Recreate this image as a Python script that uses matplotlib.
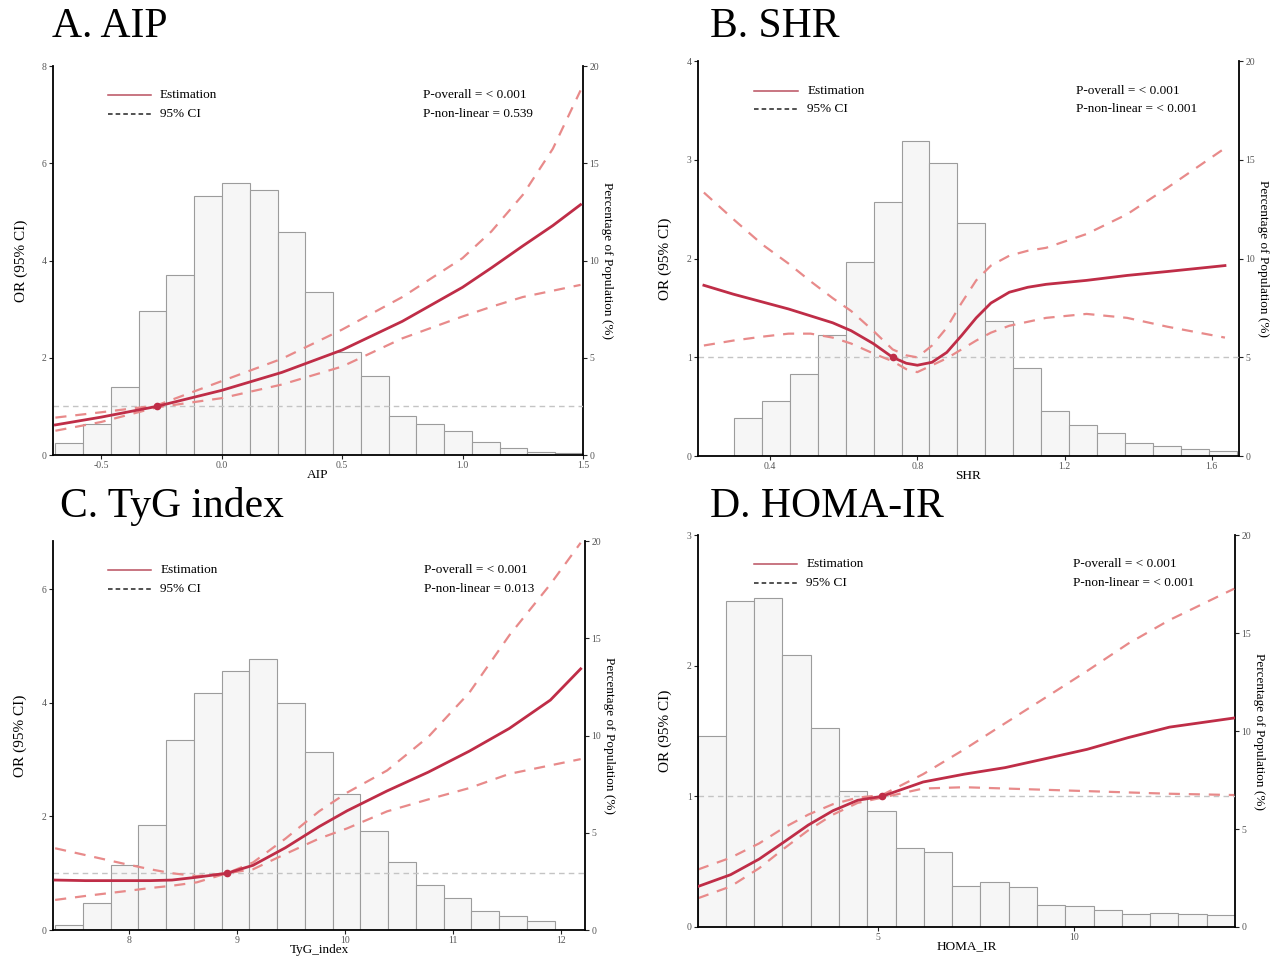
import matplotlib
import numpy as np

matplotlib.use("Agg")
import matplotlib.pyplot as plt  # noqa: E402

plt.rcParams["font.family"] = ["Liberation Serif", "DejaVu Serif"]

# ---- panel A: AIP ----
a_bins = (-0.69, 1.50)
a_pct = [0.6, 1.6, 3.48, 7.4, 9.25, 13.3, 14.0, 13.65, 11.47, 8.4,
         5.3, 4.04, 2.0, 1.58, 1.22, 0.67, 0.34, 0.15, 0.12]
a_x = [-0.69, -0.5, -0.27, 0.0, 0.25, 0.5, 0.75, 1.0, 1.12, 1.25, 1.375, 1.49]
a_est = [0.62, 0.78, 1.0, 1.33, 1.70, 2.16, 2.75, 3.45, 3.85, 4.30, 4.72, 5.15]
a_hi = [0.77, 0.88, 1.02, 1.52, 1.98, 2.58, 3.25, 4.05, 4.60, 5.35, 6.30, 7.50]
a_lo = [0.50, 0.68, 0.98, 1.17, 1.45, 1.82, 2.40, 2.85, 3.05, 3.25, 3.38, 3.50]
a_ref = -0.27

# ---- panel B: SHR ----
b_bins = (0.301, 1.669)
b_pct = [1.94, 2.81, 4.14, 6.14, 9.83, 12.88, 15.96, 14.87, 11.8, 6.83,
         4.46, 2.27, 1.57, 1.18, 0.64, 0.49, 0.37, 0.24]
b_x = [0.22, 0.30, 0.38, 0.45, 0.51, 0.57, 0.62, 0.68, 0.733, 0.77, 0.80, 0.84,
       0.88, 0.92, 0.96, 1.00, 1.05, 1.10, 1.15, 1.26, 1.37, 1.48, 1.636]
b_est = [1.73, 1.64, 1.56, 1.49, 1.42, 1.35, 1.27, 1.14, 1.0, 0.94, 0.92, 0.95,
         1.05, 1.22, 1.40, 1.55, 1.66, 1.71, 1.74, 1.78, 1.83, 1.87, 1.93]
b_hi = [2.67, 2.40, 2.14, 1.95, 1.77, 1.60, 1.47, 1.27, 1.08, 1.02, 1.00, 1.12,
        1.30, 1.55, 1.78, 1.93, 2.03, 2.08, 2.11, 2.25, 2.45, 2.72, 3.12]
b_lo = [1.12, 1.17, 1.21, 1.24, 1.24, 1.20, 1.14, 1.04, 0.96, 0.88, 0.85, 0.92,
        0.99, 1.08, 1.17, 1.25, 1.32, 1.36, 1.40, 1.44, 1.40, 1.31, 1.20]
b_ref = 0.733

# ---- panel C: TyG index ----
c_bins = (7.32, 11.94)
c_pct = [0.26, 1.4, 3.35, 5.41, 9.78, 12.19, 13.31, 13.92, 11.65, 9.15,
         7.02, 5.07, 3.49, 2.31, 1.66, 1.0, 0.7, 0.44]
c_x = [7.32, 7.6, 7.95, 8.2, 8.4, 8.63, 8.91, 9.15, 9.45, 9.76, 10.02,
       10.39, 10.77, 11.15, 11.52, 11.9, 12.18]
c_est = [0.88, 0.87, 0.87, 0.87, 0.88, 0.93, 1.0, 1.14, 1.45, 1.82, 2.1,
         2.45, 2.78, 3.15, 3.55, 4.05, 4.6]
c_hi = [1.44, 1.32, 1.17, 1.07, 1.0, 0.95, 1.0, 1.19, 1.61, 2.09, 2.42,
        2.81, 3.4, 4.18, 5.19, 6.09, 6.82]
c_lo = [0.53, 0.60, 0.68, 0.74, 0.78, 0.84, 1.0, 1.07, 1.34, 1.61, 1.79,
        2.09, 2.3, 2.5, 2.75, 2.9, 3.01]
c_ref = 8.91

# ---- panel D: HOMA-IR ----
d_bins = (0.40, 14.10)
d_pct = [9.74, 16.65, 16.79, 13.88, 10.14, 6.93, 5.91, 4.04, 3.81, 2.11,
         2.28, 2.02, 1.14, 1.09, 0.87, 0.65, 0.73, 0.65, 0.59]
d_x = [0.41, 1.24, 1.97, 2.6, 3.22, 3.85, 4.48, 5.1, 6.15, 7.2, 8.24,
       9.29, 10.33, 11.38, 12.43, 14.08]
d_est = [0.31, 0.40, 0.52, 0.65, 0.78, 0.89, 0.97, 1.0, 1.11, 1.17, 1.22,
         1.29, 1.36, 1.45, 1.53, 1.60]
d_hi = [0.44, 0.53, 0.64, 0.76, 0.86, 0.94, 0.99, 1.01, 1.17, 1.36, 1.56,
        1.76, 1.96, 2.17, 2.35, 2.59]
d_lo = [0.22, 0.31, 0.45, 0.60, 0.74, 0.86, 0.95, 0.99, 1.06, 1.07, 1.06,
        1.05, 1.04, 1.03, 1.02, 1.01]
d_ref = 5.1

panels = [
    dict(title="A. AIP", xlabel="AIP", bins=a_bins, pct=a_pct, x=a_x, est=a_est,
         hi=a_hi, lo=a_lo, ref=a_ref, xlim=(-0.70, 1.50), ylim=8,
         xticks=[-0.5, 0.0, 0.5, 1.0, 1.5], xfmt="{:.1f}", yticks=[0, 2, 4, 6, 8],
         p=("P-overall = < 0.001", "P-non-linear = 0.539"),
         rect=[0.0415, 0.525, 0.415, 0.406], tpos=(0.041, 0.972)),
    dict(title="B. SHR", xlabel="SHR", bins=b_bins, pct=b_pct, x=b_x, est=b_est,
         hi=b_hi, lo=b_lo, ref=b_ref, xlim=(0.204, 1.674), ylim=4,
         xticks=[0.4, 0.8, 1.2, 1.6], xfmt="{:.1f}", yticks=[0, 1, 2, 3, 4],
         p=("P-overall = < 0.001", "P-non-linear = < 0.001"),
         rect=[0.5466, 0.524, 0.4236, 0.412], tpos=(0.556, 0.972)),
    dict(title="C. TyG index", xlabel="TyG_index", bins=c_bins, pct=c_pct, x=c_x,
         est=c_est, hi=c_hi, lo=c_lo, ref=c_ref, xlim=(7.30, 12.22), ylim=6.85,
         xticks=[8, 9, 10, 11, 12], xfmt="{:d}", yticks=[0, 2, 4, 6],
         p=("P-overall = < 0.001", "P-non-linear = 0.013"),
         rect=[0.0415, 0.0292, 0.4166, 0.406], tpos=(0.047, 0.471)),
    dict(title="D. HOMA-IR", xlabel="HOMA_IR", bins=d_bins, pct=d_pct, x=d_x,
         est=d_est, hi=d_hi, lo=d_lo, ref=d_ref, xlim=(0.41, 14.1), ylim=3,
         xticks=[5, 10], xfmt="{:d}", yticks=[0, 1, 2, 3],
         p=("P-overall = < 0.001", "P-non-linear = < 0.001"),
         rect=[0.5466, 0.0324, 0.4205, 0.409], tpos=(0.556, 0.471)),
]

EST_C = "#bf2d47"
CI_C = "#e88a8a"


def draw_panel(fig, pn):
    ax = fig.add_axes(pn["rect"])
    ax2 = ax.twinx()
    ax.set_zorder(ax2.get_zorder() + 1)
    ax.patch.set_visible(False)

    edges = np.linspace(pn["bins"][0], pn["bins"][1], len(pn["pct"]) + 1)
    ax2.bar(edges[:-1], pn["pct"], width=np.diff(edges), align="edge",
            color="#f6f6f6", edgecolor="#9c9c9c", linewidth=0.8)
    ax2.set_ylim(0, 20)
    ax2.set_yticks([0, 5, 10, 15, 20])
    ax2.set_ylabel("Percentage of Population (%)", rotation=270, fontsize=9.5,
                   labelpad=10)

    ax.axhline(1, color="#c4c4c4", ls=(0, (4, 3)), lw=1.0, zorder=1)
    ax.plot(pn["x"], pn["hi"], color=CI_C, ls=(0, (5, 4)), lw=1.6, zorder=2)
    ax.plot(pn["x"], pn["lo"], color=CI_C, ls=(0, (5, 4)), lw=1.6, zorder=2)
    ax.plot(pn["x"], pn["est"], color=EST_C, lw=2.0, zorder=3)
    ax.plot([pn["ref"]], [1], "o", color=EST_C, ms=4.5, zorder=4)

    ax.set_xlim(*pn["xlim"])
    ax.set_ylim(0, pn["ylim"])
    ax.set_yticks(pn["yticks"])
    ax.set_xticks(pn["xticks"])
    ax.set_xticklabels([pn["xfmt"].format(t) for t in pn["xticks"]])
    ax.set_xlabel(pn["xlabel"], fontsize=9.5)
    ax.xaxis.set_label_coords(0.5, -0.035)
    ax.set_ylabel("OR (95% CI)", fontsize=11)
    ax.yaxis.set_label_coords(-0.048, 0.5)

    for a in (ax, ax2):
        a.spines["top"].set_visible(False)
        a.tick_params(labelsize=7, length=3, width=0.8, colors="#222",
                      labelcolor="#555", pad=1.5)
    ax.spines["right"].set_visible(False)
    ax2.spines["left"].set_visible(False)
    ax2.spines["bottom"].set_visible(False)
    for s in ("left", "bottom"):
        ax.spines[s].set_linewidth(1.3)
    ax2.spines["right"].set_linewidth(1.3)

    # legend and p-values
    tr = ax.transAxes
    ax.plot([0.104, 0.184], [0.926, 0.926], transform=tr, color="#b9505f", lw=1.1)
    ax.plot([0.104, 0.184], [0.878, 0.878], transform=tr, color="#222",
            ls=(0, (3, 2)), lw=1.1)
    ax.text(0.202, 0.926, "Estimation", transform=tr, va="center", fontsize=9.5)
    ax.text(0.202, 0.878, "95% CI", transform=tr, va="center", fontsize=9.5)
    ax.text(0.698, 0.926, pn["p"][0], transform=tr, va="center", fontsize=9.5)
    ax.text(0.698, 0.878, pn["p"][1], transform=tr, va="center", fontsize=9.5)

    fig.text(pn["tpos"][0], pn["tpos"][1], pn["title"], fontsize=30,
             va="center", ha="left")


fig = plt.figure(figsize=(12.77, 9.58), dpi=100)
for pn in panels:
    draw_panel(fig, pn)
fig.savefig("out.png", dpi=100, facecolor="white")
